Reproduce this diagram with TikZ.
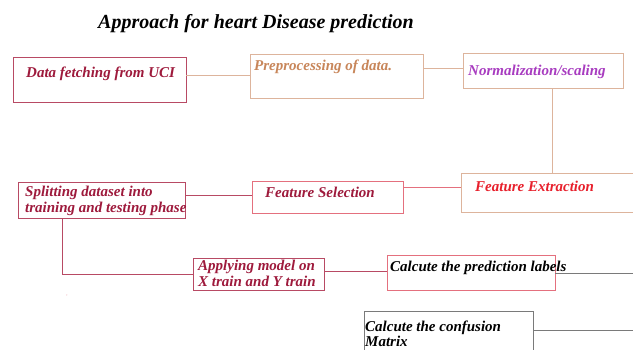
\documentclass[tikz,border=0pt]{standalone}
\usepackage{fontspec}
\setmainfont{Liberation Serif}
\usepackage[HTML]{xcolor}
\usepackage{tikz}
\usetikzlibrary{positioning}

\definecolor{darkred}{HTML}{9E1A3C}
\definecolor{tanline}{HTML}{DDB49C}
\definecolor{tantext}{HTML}{C8865A}
\definecolor{purp}{HTML}{A83CC0}
\definecolor{brightred}{HTML}{E8202C}
\definecolor{pinkline}{HTML}{E4707E}
\definecolor{roseline}{HTML}{B84A64}
\definecolor{greyline}{HTML}{7A7A7A}

\tikzset{
  stepbox/.style={draw, line width=0.9pt, fill=white, inner sep=0pt},
  steptext/.style={font=\bfseries\itshape\fontsize{15}{16}\selectfont, inner sep=0pt, anchor=base west, align=left},
  link/.style={line width=0.9pt}
}

\begin{document}
\begin{tikzpicture}[x=1pt, y=-1pt]

\clip (0,0) rectangle (633,350);
\fill[white] (0,0) rectangle (633,350);

% --- title ---
\node[font=\bfseries\itshape\fontsize{20}{22}\selectfont, anchor=base west, inner sep=0pt] (title) at (98,29) {Approach for heart Disease prediction};

% --- first row ---
\node[stepbox, draw=roseline, minimum width=173, minimum height=45] (fetch) at (99.5,79.5) {};
\node[steptext, text=darkred] (fetchtxt) at (26,78) {Data fetching from UCI};

\node[stepbox, draw=tanline, minimum width=173, minimum height=44] (prep) at (336.5,76) {};
\node[steptext, text=tantext] (preptxt) at (254,71) {Preprocessing of data.};

\node[stepbox, draw=tanline, minimum width=160, minimum height=35] (norm) at (543,70.5) {};
\node[steptext, text=purp] (normtxt) at (468,76) {Normalization/scaling};

% --- second row ---
\node[stepbox, draw=tanline, minimum width=180, minimum height=39] (extr) at (551,192.5) {};
\node[steptext, text=brightred] (extrtxt) at (475,192) {Feature Extraction};

\node[stepbox, draw=pinkline, minimum width=151, minimum height=32] (sel) at (327.5,197) {};
\node[steptext, text=darkred] (seltxt) at (265,198) {Feature Selection};

\node[stepbox, draw=roseline, minimum width=167, minimum height=36] (split) at (101.5,200) {};
\node[steptext, text=darkred] (splittxt) at (25,213) {Splitting dataset into\\training and testing phase};

% --- third row ---
\node[stepbox, draw=roseline, minimum width=131, minimum height=32] (apply) at (258.5,274) {};
\node[steptext, text=darkred] (applytxt) at (198,287) {Applying model on\\X train and Y train};

\node[stepbox, draw=pinkline, minimum width=168, minimum height=35] (pred) at (471,272.5) {};
\node[steptext, text=black] (predtxt) at (390,272) {Calcute the prediction labels};

\node[stepbox, draw=greyline, minimum width=169, minimum height=50] (conf) at (448.5,336) {};
\node[steptext, text=black] (conftxt) at (365,347) {Calcute the confusion\\Matrix};

\coordinate (predout) at (640,273);
\coordinate (confout) at (640,330);

% stray mark
\node[text=pinkline, inner sep=0pt, font=\tiny] (speck) at (67,296) {,};

% --- connectors ---
\draw[link, tanline] ([yshift=4]fetch.east) -- ([yshift=4]fetch.east -| prep.west);
\draw[link, tanline] ([yshift=8]prep.east) -- ([yshift=8]prep.east -| norm.west);
\draw[link, tanline] ([xshift=9]norm.south) -- ([xshift=9]norm.south |- extr.north);
\draw[link, pinkline] ([yshift=5.5]extr.west) -- ([yshift=5.5]extr.west -| sel.east);
\draw[link, roseline] ([yshift=2]sel.west) -- ([yshift=2]sel.west -| split.east);
\draw[link, roseline] ([xshift=-39.5]split.south) |- (apply.west);
\draw[link, roseline] ([yshift=2.5]apply.east) -- ([yshift=2.5]apply.east -| pred.west);
\draw[link, greyline] (pred.east |- predout) -- (predout);
\draw[link, greyline] (conf.east |- confout) -- (confout);

\end{tikzpicture}
\end{document}
